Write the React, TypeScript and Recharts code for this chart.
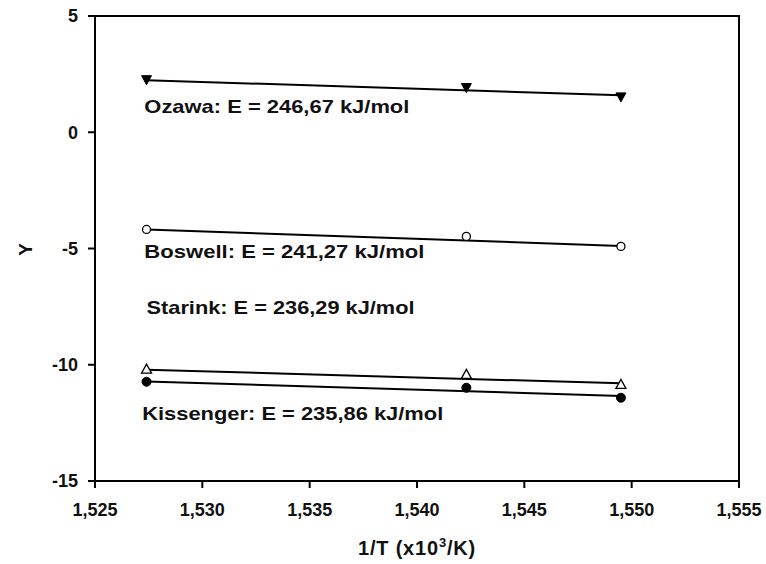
import React from 'react';
import { ComposedChart, Line, Scatter, XAxis, YAxis, ReferenceArea } from 'recharts';

// measured points (1/T in x10^3/K)
const xPoints = [1.5274, 1.5423, 1.5495];
const ozawaY = [2.24, 1.9, 1.5];
const boswellY = [-4.18, -4.48, -4.91];
const starinkY = [-10.17, -10.39, -10.82];
const kissengerY = [-10.73, -10.99, -11.42];

// fitted line end points
const fitX = [1.5274, 1.5495];
const ozawaFit = [2.24, 1.59];
const boswellFit = [-4.18, -4.89];
const starinkFit = [-10.21, -10.8];
const kissengerFit = [-10.72, -11.34];

const xTicks = [1.525, 1.53, 1.535, 1.54, 1.545, 1.55, 1.555];
const yTicks = [-15, -10, -5, 0, 5];

const labelTexts = [
  'Ozawa: E = 246,67 kJ/mol',
  'Boswell: E = 241,27 kJ/mol',
  'Starink: E = 236,29 kJ/mol',
  'Kissenger: E = 235,86 kJ/mol',
];
const labelX = [1.5273, 1.5273, 1.5274, 1.5272];
const labelY = [0.83, -5.4, -7.8, -12.38];
const labelWidths = [265, 280, 268, 301];

const FONT = '"Liberation Sans", Arial, sans-serif';

const pts = (xs: number[], ys: number[]) => xs.map((x, i) => ({ x, y: ys[i] }));

const annotations = labelTexts.map((t, i) => ({ x: labelX[i], y: labelY[i], text: t, w: labelWidths[i] }));

const TriDown = (p: any) => (
  <path d={`M${p.cx - 5},${p.cy - 4.5} L${p.cx + 5},${p.cy - 4.5} L${p.cx},${p.cy + 4.5} Z`} fill="#000" stroke="#000" strokeWidth={1} />
);
const TriUp = (p: any) => (
  <path d={`M${p.cx - 5},${p.cy + 4.5} L${p.cx + 5},${p.cy + 4.5} L${p.cx},${p.cy - 4.5} Z`} fill="#fff" stroke="#000" strokeWidth={1.3} />
);
const OpenCircle = (p: any) => <circle cx={p.cx} cy={p.cy} r={4} fill="#fff" stroke="#000" strokeWidth={1.3} />;
const FilledCircle = (p: any) => <circle cx={p.cx} cy={p.cy} r={4.5} fill="#000" stroke="#000" strokeWidth={1} />;

const AnnotationText = (p: any) => (
  <text
    x={p.cx}
    y={p.cy}
    fontFamily={FONT}
    fontWeight="bold"
    fontSize={18.5}
    fill="#111"
    textLength={p.payload.w}
    lengthAdjust="spacingAndGlyphs"
  >
    {p.payload.text}
  </text>
);

const fmtX = (v: number) => v.toFixed(3).replace('.', ',');

const XTitle = (props: any) => {
  const vb = props.viewBox;
  return (
    <text
      x={vb.x + vb.width / 2}
      y={vb.y + 74}
      textAnchor="middle"
      fontFamily={FONT}
      fontWeight="bold"
      fontSize={20}
      fill="#111"
      letterSpacing={0.8}
    >
      1/T (x10
      <tspan dy={-8} fontSize={13}>3</tspan>
      <tspan dy={8}>/K)</tspan>
    </text>
  );
};

const YTitle = (props: any) => {
  const vb = props.viewBox;
  const x = vb.x + 25;
  const y = vb.y + vb.height / 2 + 1;
  return (
    <text
      x={x}
      y={y}
      transform={`rotate(-90, ${x}, ${y})`}
      textAnchor="middle"
      dominantBaseline="central"
      fontFamily={FONT}
      fontWeight="bold"
      fontSize={19}
      fill="#111"
    >
      Y
    </text>
  );
};

export default function App() {
  const tickStyle = { fontFamily: FONT, fontWeight: 'bold', fontSize: 18, fill: '#111' } as any;
  return (
    <div style={{ position: 'absolute', left: 0, top: 0, width: 766, height: 564, background: '#fff' }}>
      <ComposedChart width={766} height={564} margin={{ top: 16, right: 27, left: 0, bottom: 0 }}>
        <XAxis
          type="number"
          dataKey="x"
          domain={[1.525, 1.555]}
          ticks={xTicks}
          tickFormatter={fmtX}
          allowDataOverflow
          height={83}
          tickSize={7}
          tickMargin={15}
          tick={tickStyle}
          axisLine={{ stroke: '#000', strokeWidth: 2 }}
          tickLine={{ stroke: '#000', strokeWidth: 2 }}
          label={XTitle}
        />
        <YAxis
          type="number"
          dataKey="y"
          domain={[-15, 5]}
          ticks={yTicks}
          allowDataOverflow
          width={95}
          tickSize={7}
          tickMargin={10}
          tick={tickStyle}
          axisLine={{ stroke: '#000', strokeWidth: 2 }}
          tickLine={{ stroke: '#000', strokeWidth: 2 }}
          label={YTitle}
        />
        <ReferenceArea x1={1.525} x2={1.555} y1={-15} y2={5} fill="none" stroke="#000" strokeWidth={2} fillOpacity={0} />

        <Line data={pts(fitX, ozawaFit)} dataKey="y" type="linear" stroke="#000" strokeWidth={2} dot={false} isAnimationActive={false} />
        <Line data={pts(fitX, boswellFit)} dataKey="y" type="linear" stroke="#000" strokeWidth={2} dot={false} isAnimationActive={false} />
        <Line data={pts(fitX, starinkFit)} dataKey="y" type="linear" stroke="#000" strokeWidth={2} dot={false} isAnimationActive={false} />
        <Line data={pts(fitX, kissengerFit)} dataKey="y" type="linear" stroke="#000" strokeWidth={2} dot={false} isAnimationActive={false} />

        <Scatter data={pts(xPoints, ozawaY)} dataKey="y" shape={TriDown} isAnimationActive={false} />
        <Scatter data={pts(xPoints, boswellY)} dataKey="y" shape={OpenCircle} isAnimationActive={false} />
        <Scatter data={pts(xPoints, starinkY)} dataKey="y" shape={TriUp} isAnimationActive={false} />
        <Scatter data={pts(xPoints, kissengerY)} dataKey="y" shape={FilledCircle} isAnimationActive={false} />

        <Scatter data={annotations} dataKey="y" shape={AnnotationText} isAnimationActive={false} />
      </ComposedChart>
    </div>
  );
}
